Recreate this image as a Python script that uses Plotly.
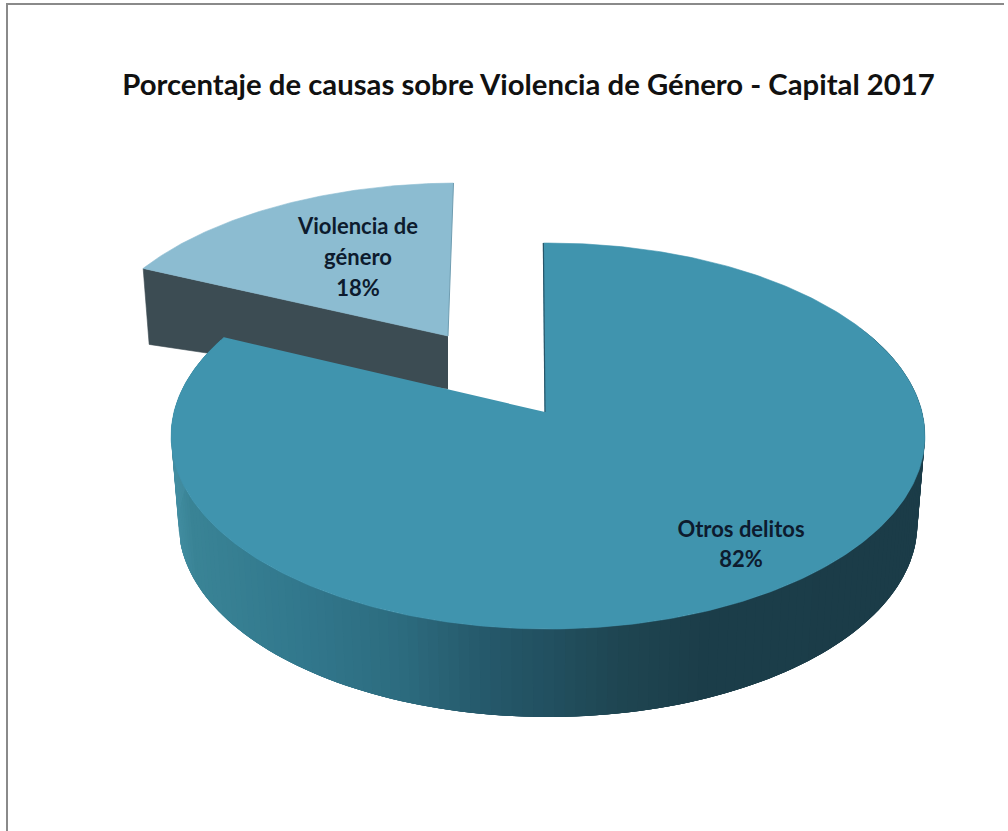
import numpy as np
import plotly.graph_objects as go

# ---- data ----
categories = ["Otros delitos", "Violencia de género"]
shares = [82, 18]
label_lines = [["Otros delitos", "82%"], ["Violencia de", "género", "18%"]]
title_text = "Porcentaje de causas sobre Violencia de Género - Capital 2017"

# ---- style / geometry ----
TOP_MAIN = "#4094ae"
TOP_SLICE = "#8cbcd1"
SIDE_SLICE = "#3c4c53"
K = 0.1244            # perspective strength
START = -0.8          # degrees clockwise from 12 o'clock
WALL_X = [165, 190, 300, 400, 480, 550, 620, 700, 930]
WALL_R = [70, 58, 50, 45, 38, 34, 31, 28, 27]
WALL_G = [145, 132, 120, 108, 90, 80, 70, 62, 60]
WALL_B = [165, 150, 141, 127, 108, 96, 82, 74, 72]


def project(theta_deg, cx, cy, rx, ry, shear=0.0):
    t = np.radians(theta_deg)
    u, v = np.sin(t), np.cos(t)
    w = 1 + K * v
    dy = -ry * v / w
    return cx + rx * u / w + shear * dy, cy + dy


total = sum(shares)
sweep_main = 360 * shares[0] / total
th_main = np.linspace(START, START + sweep_main, 400)
th_slice = np.linspace(START + sweep_main, START + 360, 120)

fig = go.Figure()


def poly(x, y, color, line=0.6):
    fig.add_trace(go.Scatter(x=list(x), y=list(y), mode="lines", fill="toself",
                             fillcolor=color, line=dict(color=color, width=line),
                             hoverinfo="skip", showlegend=False))


# exploded slice: side face, then top face
SL_APEX = (448, 336)
sx, sy = project(th_slice, SL_APEX[0], SL_APEX[1], 357, 172, shear=-0.065)
poly([SL_APEX[0], sx[0], sx[0] + 6, SL_APEX[0]],
     [SL_APEX[1], sy[0], sy[0] + 76, SL_APEX[1] + 53], SIDE_SLICE)
poly(np.r_[SL_APEX[0], sx], np.r_[SL_APEX[1], sy], TOP_SLICE)
fig.add_trace(go.Scatter(x=[sx[-1], SL_APEX[0]], y=[sy[-1], SL_APEX[1]], mode="lines",
                         line=dict(color="#6f9db1", width=1), hoverinfo="skip", showlegend=False))

# main slice: curved wall with a gradient, painted from thin overlapping bands
CX, CY, RX, RY = 548, 412, 374, 190
DEPTH = 88
wall_edges = np.linspace(62, START + sweep_main - 1, 161)
wx, wy = project(wall_edges, CX, CY, RX, RY)
bx, by = CX + (wx - CX) * 0.98, wy + DEPTH
OVERLAP = 4
for i in range(len(wall_edges) - 1):
    j = min(i + OVERLAP, len(wall_edges) - 1)
    xm = (wx[i] + wx[i + 1]) / 2
    col = "rgb(%d,%d,%d)" % (np.interp(xm, WALL_X, WALL_R),
                             np.interp(xm, WALL_X, WALL_G),
                             np.interp(xm, WALL_X, WALL_B))
    poly(np.r_[wx[i:j + 1], bx[i:j + 1][::-1]], np.r_[wy[i:j + 1], by[i:j + 1][::-1]], col, 0)

# main slice: top face
APEX = (545, 412)
mx, my = project(th_main, CX, CY, RX, RY)
poly(np.r_[APEX[0], mx], np.r_[APEX[1], my], TOP_MAIN)
fig.add_trace(go.Scatter(x=[mx[0], APEX[0]], y=[my[0], APEX[1]], mode="lines",
                         line=dict(color="#27566a", width=1.2), hoverinfo="skip", showlegend=False))

# data labels, one text point per line
label_pos = [(741, 531, 30), (358, 228, 31)]
for lines, (lx, ly, step) in zip(label_lines, label_pos):
    fig.add_trace(go.Scatter(x=[lx] * len(lines), y=[ly + step * i for i in range(len(lines))],
                             mode="text", text=lines, textposition="middle center",
                             textfont=dict(family="Lato", size=22, color="#0d1b2e", weight="bold"),
                             hoverinfo="skip", showlegend=False))

fig.update_layout(
    width=1008, height=831,
    margin=dict(l=0, r=0, t=0, b=0),
    paper_bgcolor="white", plot_bgcolor="white",
    showlegend=False,
    title=dict(text=title_text, x=528.5 / 1008, y=1 - 85 / 831, xanchor="center", yanchor="middle",
               xref="paper", yref="paper",
               font=dict(family="Lato", size=29.3, color="#111111", weight="bold")),
    xaxis=dict(range=[0, 1008], visible=False, fixedrange=True),
    yaxis=dict(range=[831, 0], visible=False, fixedrange=True),
    shapes=[
        dict(type="line", xref="x", yref="y", x0=6, y0=4, x1=1004, y1=4, line=dict(color="#8a8a8a", width=2)),
        dict(type="line", xref="x", yref="y", x0=7, y0=4, x1=7, y1=831, line=dict(color="#8a8a8a", width=2)),
    ],
)
fig.write_html("out.html", config=dict(displayModeBar=False),
               post_script="document.body.style.margin='0';document.body.style.overflow='hidden';")
